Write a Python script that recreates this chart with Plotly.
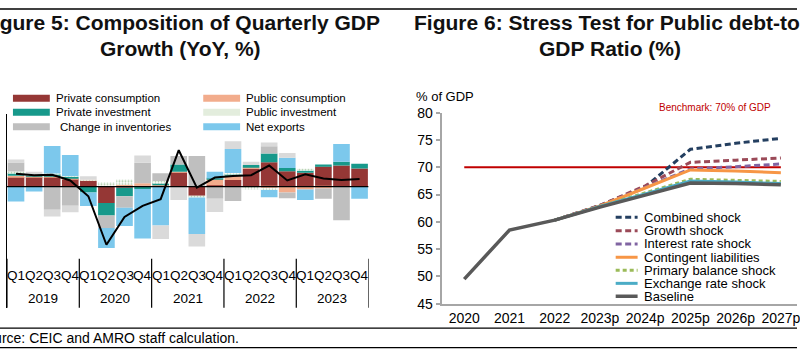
import plotly.graph_objects as go

# The photographed picture maps figure rows as  y_pic ~= 0.9557 * y_fig + 7.3
# (columns are unchanged), so every vertical position below is written in
# reference-picture pixels and converted with py().
W, H = 800, 360
SCALE_Y, OFF_Y = 0.9557, 7.3
FONT = "Liberation Sans, Arial, sans-serif"


def px(x):
    return x / W


def py(y_ref):
    y_fig = (y_ref - OFF_Y) / SCALE_Y
    return 1 - y_fig / H


# ---------------- Figure 5 data (contributions, ppt) ----------------
quarter_labels = ["Q1", "Q2", "Q3", "Q4"] * 5
year_labels = ["2019", "2020", "2021", "2022", "2023"]
periods = [f"{y}{q}" for y in year_labels for q in ["Q1", "Q2", "Q3", "Q4"]]

private_consumption = [2.0, 2.0, 2.0, 1.6, 1.25, -3.4, -0.2, 0.2, 0.0, 3.0,
                       -1.9, 0.3, 1.4, 3.8, 5.1, 3.2, 2.9, 4.2, 4.4, 3.8]
public_consumption = [0.3, 0.2, 0.25, 0.15, 0.1, 0.2, 0.4, 0.5, 0.3, 0.1,
                      0.0, 1.3, 0.9, 0.3, -0.3, -1.2, -0.6, -0.4, 0.0, 0.0]
private_investment = [0.55, 0.1, 0.4, 0.35, -1.2, -2.6, -1.8, -0.5, 0.5, 1.5,
                      0.0, 0.1, 0.35, 0.4, 1.8, 0.7, 0.5, 0.4, 0.8, 1.0]
public_investment = [0.3, 0.2, 0.1, 0.1, 0.1, 0.7, 1.1, 0.0, 0.4, 0.0,
                     -0.35, 0.0, 0.2, -0.6, -0.4, 0.0, 0.35, 0.0, 0.0, 0.0]
change_in_inventories = [1.9, 0.0, -4.8, -3.95, 0.0, -2.6, -2.4, 4.3, 1.6, 1.8,
                         6.4, -2.5, -3.0, 0.0, 1.5, -1.2, 0.0, -2.1, -7.0, 0.0]
net_exports = [-3.1, -1.0, 5.75, 4.4, -2.85, -4.2, -3.8, -10.3, -8.1, 0.0,
               -7.6, 1.4, 5.0, 0.0, -1.5, 2.1, -2.2, 0.0, 3.7, -2.5]
statistical_discrepancy = [0.6, 0.6, -1.4, -1.4, 0.7, 0.0, 0.0, 1.5, -2.8, -2.8,
                           -2.6, -2.8, 1.6, 0.7, 0.8, 1.0, 0.0, 0.0, 0.0, 0.0]
gdp_growth = [2.7, 2.4, 2.5, 1.3, -2.0, -12.1, -6.3, -4.0, -2.6, 7.6,
              -0.2, 1.9, 2.2, 2.4, 4.4, 1.3, 2.6, 1.7, 1.4, 1.6]

series_names = ["Private consumption", "Public consumption", "Private investment",
                "Public investment", "Change in inventories", "Net exports"]
series_colors = ["#953735", "#F2AC8C", "#17998B", "#FFFFFF", "#BFBFBF", "#7CC8EC"]
discrepancy_color = "#DADADA"

# ---------------- Figure 6 data (% of GDP) ----------------
years_r = ["2020", "2021", "2022", "2023p", "2024p", "2025p", "2026p", "2027p"]
baseline = [49.5, 58.5, 60.3, 62.7, 64.9, 67.1, 67.0, 66.8]
combined_shock = [None, None, 60.3, 63.0, 66.4, 73.3, 74.4, 75.3]
growth_shock = [None, None, 60.3, 63.0, 66.6, 70.9, 71.3, 71.7]
interest_rate_shock = [None, None, 60.3, 62.9, 66.3, 69.7, 70.1, 70.6]
contingent_liabilities = [None, None, 60.3, 62.9, 66.2, 69.5, 69.3, 69.0]
primary_balance_shock = [None, None, 60.3, 62.8, 65.3, 67.8, 67.6, 67.4]
exchange_rate_shock = [None, None, 60.3, 62.8, 65.1, 67.5, 67.3, 67.0]
benchmark = 70

scen_names = ["Combined shock", "Growth shock", "Interest rate shock",
              "Contingent liabilities", "Primary balance shock",
              "Exchange rate shock", "Baseline"]
scen_values = [combined_shock, growth_shock, interest_rate_shock,
               contingent_liabilities, primary_balance_shock,
               exchange_rate_shock, baseline]
scen_colors = ["#243F60", "#9B4A58", "#8064A2", "#F79646", "#9BBB59",
               "#4BACC6", "#595959"]
scen_dash = ["6px,3.5px", "6px,3.5px", "6px,3.5px", "solid", "4px,3px",
             "solid", "solid"]
scen_width = [3, 3, 3, 3, 3, 3, 3.5]

fig = go.Figure()

# ---- Figure 5 bars
bar_series = [private_consumption, public_consumption, private_investment,
              public_investment, change_in_inventories, net_exports]
for name, vals, col in zip(series_names, bar_series, series_colors):
    marker = dict(color=col, line=dict(width=0))
    if name == "Public investment":
        marker = dict(color="#FFFFFF", line=dict(width=0),
                      pattern=dict(shape=".", fgcolor="#A9CBA4", bgcolor="#FFFFFF",
                                   size=3, solidity=0.35, fillmode="replace"))
    fig.add_trace(go.Bar(x=periods, y=vals, name=name, marker=marker,
                         xaxis="x", yaxis="y"))
fig.add_trace(go.Bar(x=periods, y=statistical_discrepancy, name="Discrepancy",
                     marker=dict(color=discrepancy_color, line=dict(width=0)),
                     xaxis="x", yaxis="y"))
fig.add_trace(go.Scatter(x=periods, y=gdp_growth, mode="lines", name="GDP growth",
                         line=dict(color="#000000", width=2), xaxis="x", yaxis="y"))

# ---- Figure 6 lines
fig.add_trace(go.Scatter(x=years_r, y=[benchmark] * len(years_r), mode="lines",
                         line=dict(color="#C00000", width=2), xaxis="x2", yaxis="y2"))
for name, vals, col, dash, w in zip(scen_names, scen_values, scen_colors, scen_dash, scen_width):
    fig.add_trace(go.Scatter(x=years_r, y=vals, mode="lines", name=name,
                             line=dict(color=col, width=w, dash=dash),
                             xaxis="x2", yaxis="y2"))

# left axes: zero at y=186px, 4.8 px per ppt (reference pixels)
zero_px, ppp = 186, 4.8
ytop = (zero_px - 113) / ppp
ybot = -(307 - zero_px) / ppp

shapes = []
annotations = []


def ann(x, y, text, size, color="#000000", xanchor="center", xref="paper", yref="paper"):
    annotations.append(dict(x=x, y=y, xref=xref, yref=yref, text=text, showarrow=False,
                            xanchor=xanchor, yanchor="middle",
                            font=dict(size=size, color=color)))


# zero line
shapes.append(dict(type="line", xref="x", yref="y", x0=-0.5, x1=19.5, y0=0, y1=0,
                   line=dict(color="#000000", width=1.3), layer="above"))
# group separators
for k in range(len(year_labels) + 1):
    shapes.append(dict(type="line", xref="x", yref="paper", x0=k * 4 - 0.5, x1=k * 4 - 0.5,
                       y0=py(307), y1=py(258), line=dict(color="#000000", width=1.2)))
# quarter and year labels
for i, q in enumerate(quarter_labels):
    ann(i, py(274.5), q, 13.5, xref="x")
for k, yl in enumerate(year_labels):
    ann(k * 4 + 1.5, py(298), yl, 13.5, xref="x")

# left legend
leg_pos = [(13, 54, 97.5), (204, 245, 97.5), (13, 54, 111.5), (204, 245, 111.5),
           (13, 58, 126), (204, 245, 126)]
for name, col, (sx, tx, cy) in zip(series_names, series_colors, leg_pos):
    fill = col if name != "Public investment" else "#E3EDDD"
    shapes.append(dict(type="rect", xref="paper", yref="paper", x0=px(sx), x1=px(sx + 37),
                       y0=py(cy + 3.5), y1=py(cy - 3.5), fillcolor=fill, line=dict(width=0)))
    ann(px(tx), py(cy), name, 11.5, xanchor="left")

# right legend
leg_rows = [216.7, 230.0, 243.3, 256.6, 269.6, 282.7, 295.6]
for name, col, dash, w, cy in zip(scen_names, scen_colors, scen_dash, scen_width, leg_rows):
    shapes.append(dict(type="line", xref="paper", yref="paper", x0=px(618), x1=px(640),
                       y0=py(cy), y1=py(cy), line=dict(color=col, width=w, dash=dash)))
    ann(px(644), py(cy), name, 13, xanchor="left")

ann(px(718), py(107), "Benchmark: 70% of GDP", 10, color="#C00000")
ann(px(416), py(96), "% of GDP", 13, xanchor="left")

# titles
for cx, l1, l2 in [(181.6, "Figure 5: Composition of Quarterly GDP", "Growth (YoY, %)"),
                   (612.5, "Figure 6: Stress Test for Public debt-to-", "GDP Ratio (%)")]:
    ann(px(cx), py(21.5), f"<b>{l1}</b>", 21, color="#111111")
    ann(px(cx), py(47.5), f"<b>{l2}</b>", 21, color="#111111")

ann(px(-25), py(337.5), "Source: CEIC and AMRO staff calculation.", 14, xanchor="left")

# frame lines
for yy in [8.3, 327.5, 347]:
    shapes.append(dict(type="line", xref="paper", yref="paper", x0=0, x1=1,
                       y0=py(yy), y1=py(yy), line=dict(color="#000000", width=1.3)))

xr_left = 466 - 22.7
xr_max = (800 - 466) / 45.4

fig.update_layout(
    width=W, height=H, margin=dict(l=0, r=0, t=0, b=0),
    paper_bgcolor="#FFFFFF", plot_bgcolor="rgba(0,0,0,0)",
    showlegend=False, barmode="relative", bargap=0.08,
    font=dict(family=FONT, color="#000000"),
    xaxis=dict(domain=[px(7), px(370)], type="category", range=[-0.5, 19.5],
               showticklabels=False, showgrid=False, zeroline=False, showline=False,
               ticks=""),
    yaxis=dict(domain=[py(307), py(113)], range=[ybot, ytop], showticklabels=False,
               showgrid=False, zeroline=False, showline=True, linecolor="#000000",
               linewidth=1.3, ticks=""),
    xaxis2=dict(domain=[px(xr_left), 1.0], type="category", range=[-0.5, xr_max],
                anchor="y2", showgrid=False, zeroline=False, showline=True,
                linecolor="#A6A6A6", linewidth=2, ticks="",
                tickfont=dict(size=14, color="#000000"), ticklabelstandoff=1),
    yaxis2=dict(domain=[py(303), py(112)], range=[45, 80], anchor="x2", dtick=5,
                tick0=45, showgrid=False, zeroline=False, showline=True,
                linecolor="#A6A6A6", linewidth=2, ticks="outside", ticklen=4,
                tickcolor="#A6A6A6", tickwidth=1.5,
                tickfont=dict(size=14, color="#000000")),
    shapes=shapes, annotations=annotations,
)

fig.write_html("out.html")
